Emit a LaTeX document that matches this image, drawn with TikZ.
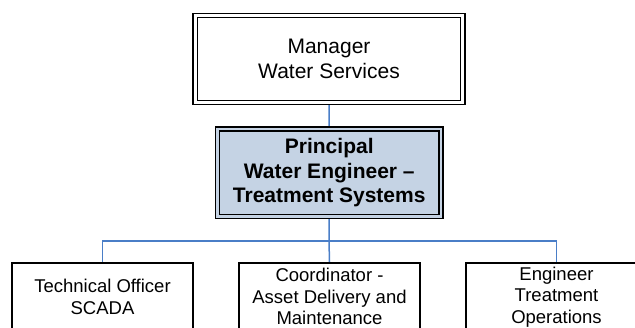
\documentclass[tikz,border=0pt]{standalone}
\usepackage{fontspec}
\setmainfont{Liberation Sans}
\usetikzlibrary{backgrounds}
\definecolor{linkblue}{RGB}{74,126,199}
\definecolor{boxblue}{RGB}{197,211,228}
\begin{document}
\begin{tikzpicture}[x=1pt,y=-1pt,
  topbox/.style={draw=black, line width=1.3pt, double=white, double distance=3.2pt,
    minimum width=267.5pt, minimum height=87pt, align=center, inner sep=0pt,
    font=\fontsize{21}{25}\selectfont},
  headbox/.style={draw=black, line width=1.3pt, double=boxblue, double distance=2.8pt,
    fill=boxblue, minimum width=223.5pt, minimum height=87.5pt, align=center, inner sep=0pt,
    font=\bfseries\fontsize{21}{24.5}\selectfont},
  staffbox/.style={draw=black, line width=1.5pt, fill=white, minimum width=181pt,
    minimum height=68pt, align=center, inner sep=0pt, anchor=north,
    font=\fontsize{18.5}{21.5}\selectfont},
  link/.style={draw=linkblue, line width=1.5pt}]
\useasboundingbox (0,0) rectangle (635,327);
\node[topbox] (mgr) at (329,59) {Manager\\Water Services};
\node[headbox] (pri) at (329.25,172.75) {Principal\\Water Engineer –\\Treatment Systems};
\node[staffbox] (tech) at (102.5,262) {Technical Officer\\SCADA};
\node[staffbox] (coord) at (329.5,262) {Coordinator -\\Asset Delivery and\\Maintenance};
\node[staffbox] (eng) at (556.5,262) {Engineer\\Treatment\\Operations};
\coordinate (bus) at (329,241);
\begin{scope}[on background layer]
\draw[link] (mgr.south) -- (pri.north);
\draw[link] (pri.south) -- (bus);
\draw[link] (tech.north) |- (bus) -| (eng.north);
\draw[link] (bus) -- (coord.north);
\end{scope}
\end{tikzpicture}
\end{document}
